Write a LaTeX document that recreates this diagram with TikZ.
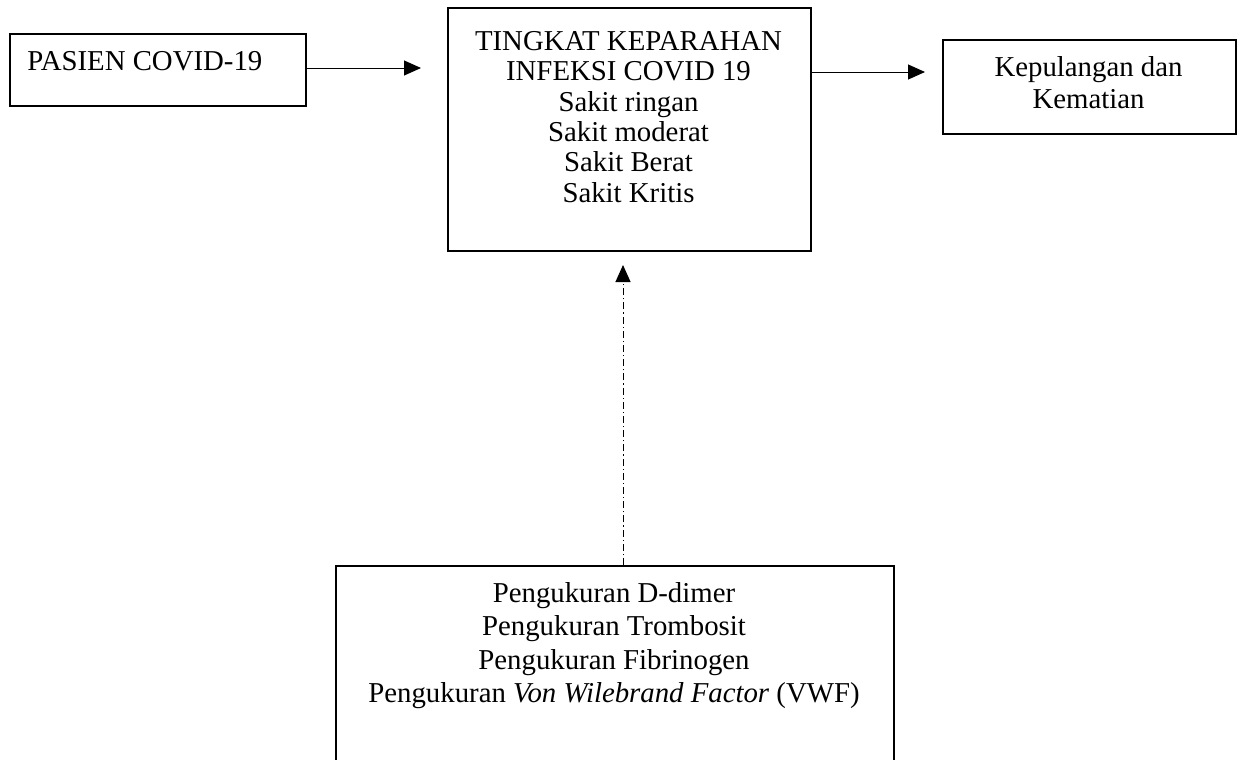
\documentclass[tikz,border=0pt]{standalone}
\usepackage{fontspec}
\setmainfont{Liberation Serif}
\usetikzlibrary{arrows.meta,positioning}

\tikzset{
  box/.style={draw,line width=1pt,inner sep=0pt,anchor=north west},
  lbl/.style={inner sep=0pt,align=center,anchor=north,font=\fontsize{14.4}{16.2}\selectfont},
  arr/.style={-{Triangle[length=8.5pt,width=7.5pt]},line width=0.5pt},
  dashdot/.style={dash pattern=on 3.5pt off 1.5pt on 0.6pt off 1.5pt}
}

\begin{document}
\begin{tikzpicture}[x=0.5pt,y=-0.5pt]
  \clip (0,0) rectangle (1237,760);
  % boxes
  \node[box,minimum width=148pt,minimum height=36pt] (pasien) at (9,33) {};
  \node[box,minimum width=181.5pt,minimum height=121.5pt] (tingkat) at (447,7) {};
  \node[box,minimum width=146.5pt,minimum height=47pt] (pulang) at (942,39) {};
  \node[box,minimum width=279pt,minimum height=120pt] (ukur) at (335,565) {};
  % texts
  \node[lbl,anchor=north west,align=left] (pasienT) at (27,47.3) {\strut PASIEN COVID-19};
  \node[lbl,font=\fontsize{14.4}{15.2}\selectfont] (tingkatT) at (628.5,28.7) {\strut TINGKAT KEPARAHAN\\INFEKSI COVID 19\\Sakit ringan\\Sakit moderat\\Sakit Berat\\Sakit Kritis};
  \node[lbl] (pulangT) at (1088.5,53.3) {\strut Kepulangan dan\\Kematian};
  \node[lbl,font=\fontsize{14.4}{16.65}\selectfont] (ukurT) at (614,578.7) {\strut Pengukuran D-dimer\\Pengukuran Trombosit\\Pengukuran Fibrinogen\\Pengukuran \textit{Von Wilebrand Factor} (VWF)};
  % arrows
  \draw[arr,shorten >=13pt] ([yshift=1pt]pasien.east) -- ([yshift=1pt]pasien.east -| tingkat.west);
  \draw[arr,shorten >=8.5pt] ([yshift=7.5pt]pulang.west -| tingkat.east) -- ([yshift=7.5pt]pulang.west);
  \draw[arr,dashdot,shorten >=6.5pt] ([xshift=4pt]ukur.north) -- ([xshift=4pt]ukur.north |- tingkat.south);
\end{tikzpicture}
\end{document}
